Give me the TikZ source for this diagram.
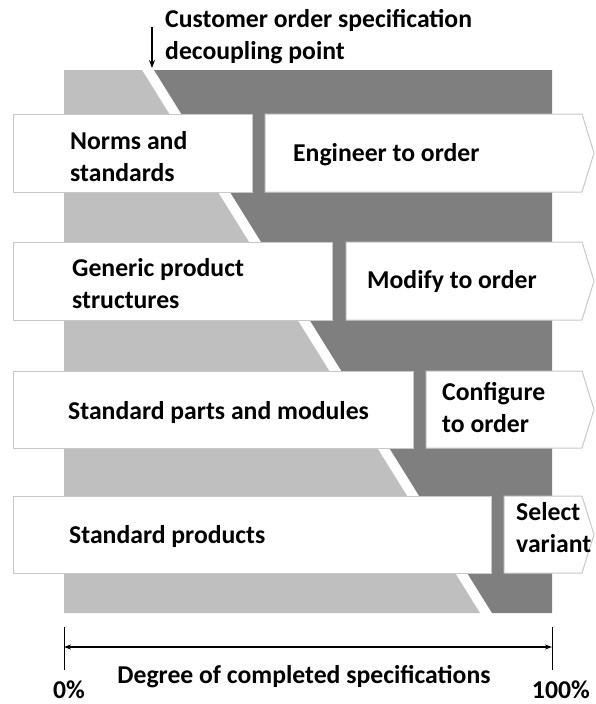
\documentclass[tikz,border=0pt]{standalone}
\usepackage{fontspec}
\setmainfont{Carlito}
\usetikzlibrary{arrows.meta,positioning}
\definecolor{lightgrey}{RGB}{191,191,191}
\definecolor{darkgrey}{RGB}{127,127,127}
\definecolor{boxline}{RGB}{200,200,200}

\begin{document}
\begin{tikzpicture}[x=1pt, y=-1pt]
		\tikzstyle{every node}=[font=\fontsize{25.7}{32}\selectfont\bfseries, inner sep=0pt]
		\tikzstyle{box}=[fill=white, draw=boxline, line width=1pt]
		\useasboundingbox (0,0) rectangle (595,704);
		% grey panel, split by the slanted decoupling line
		\fill [lightgrey] (64,70) -- (142,70) -- (480,613) -- (64,613) -- cycle;
		\fill [darkgrey] (154,70) -- (552,70) -- (552,613) -- (492,613) -- cycle;
		% left boxes
		\draw [box] (13,114) rectangle (252,192);
		\draw [box] (13,242) rectangle (332,320);
		\draw [box] (13,371) rectangle (413,448);
		\draw [box] (13,496) rectangle (491,573);
		% right arrow boxes
		\draw [box] (265,114) -- (582,114) -- (594,153) -- (582,192) -- (265,192) -- cycle;
		\draw [box] (346,242) -- (582,242) -- (594,281) -- (582,320) -- (346,320) -- cycle;
		\draw [box] (426,371) -- (582,371) -- (594,409.5) -- (582,448) -- (426,448) -- cycle;
		\draw [box] (504,496) -- (582,496) -- (594,534.5) -- (582,573) -- (504,573) -- cycle;
		% texts
		\node [anchor=west, align=left] (norms) at (70,157) {Norms and\\standards};
		\node [anchor=base west] (eto) at (293,161) {Engineer to order};
		\node [anchor=west, align=left] (generic) at (72,284) {Generic product\\structures};
		\node [anchor=base west] (mto) at (367,288) {Modify to order};
		\node [anchor=base west] (parts) at (68,419) {Standard parts and modules};
		\node [anchor=west, align=left] (cto) at (442,408) {Configure\\to order};
		\node [anchor=base west] (products) at (69,543) {Standard products};
		\node [anchor=west, align=left] (variant) at (516,528) {Select\\variant};
		\node [anchor=west, align=left] (cods) at (165,37) {Customer order specification\\decoupling point};
		% decoupling point marker
		\coordinate (cods tail) at (152,27);
		\coordinate (cods head) at (152,68);
		\draw [line width=1.5pt, -{Stealth[length=8pt, width=6pt]}] (cods tail) -- (cods head);
		% degree axis
		\coordinate (zero) at (64,647);
		\coordinate (full) at (552,647);
		\draw [line width=1pt] (64,627) -- (64,670);
		\draw [line width=1pt] (552,627) -- (552,670);
		\draw [line width=1.5pt, {Stealth[length=7pt, width=5pt]}-{Stealth[length=7pt, width=5pt]}] (zero) -- (full);
		\node [anchor=base] (degree) at (304,683) {Degree of completed specifications};
		\node [anchor=base west] (pzero) at (53,698) {0\%};
		\node [anchor=base east] (pfull) at (590,698) {100\%};
	\end{tikzpicture}
\end{document}
